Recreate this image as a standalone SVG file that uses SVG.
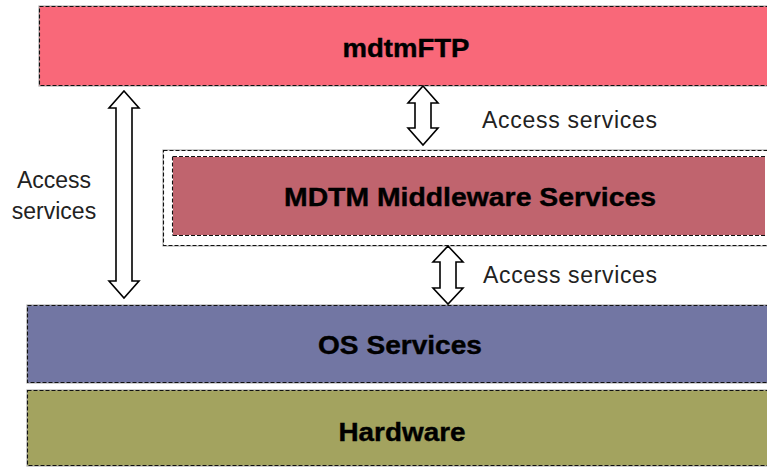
<svg xmlns="http://www.w3.org/2000/svg" width="767" height="468" viewBox="0 0 767 468">
<style>
.shadow{fill:none;stroke:#b0b0b0;stroke-width:2.2}
.dash{stroke:#111;stroke-width:1.1;stroke-dasharray:4 2}
.title{font-family:"Liberation Sans",Arial,sans-serif;font-weight:bold;font-size:26px;fill:#000;stroke:#000;stroke-width:0.4;text-anchor:middle}
.lbl{font-family:"Liberation Sans",Arial,sans-serif;font-size:23px;fill:#222}
.arrow{fill:#fff;stroke:#000;stroke-width:1.6;stroke-linejoin:miter}
</style>
<rect width="767" height="468" fill="#fff"/>
<g id="mdtmFTP">
<rect class="shadow" x="39.5" y="6.5" width="740" height="79"/>
<rect class="dash" x="39.5" y="6.5" width="740" height="79" fill="#F96879"/>
<text class="title" x="406" y="57" textLength="127" lengthAdjust="spacingAndGlyphs">mdtmFTP</text>
</g>
<g id="middleware">
<rect class="shadow" x="163.5" y="150.5" width="620" height="95"/>
<rect class="dash" x="163.5" y="150.5" width="620" height="95" fill="#fff"/>
<rect x="173" y="157" width="592" height="78" fill="#C0646E"/>
<path class="dash" d="M173,156.5 H767 M173,235.5 H767 M172.5,156.5 V235.5" fill="none"/>
<text class="title" x="470" y="206" textLength="372" lengthAdjust="spacingAndGlyphs">MDTM Middleware Services</text>
</g>
<g id="os">
<rect class="shadow" x="27.5" y="305.5" width="760" height="77"/>
<rect class="dash" x="27.5" y="305.5" width="760" height="77" fill="#7276A3"/>
<text class="title" x="400" y="354" textLength="164" lengthAdjust="spacingAndGlyphs">OS Services</text>
</g>
<g id="hardware">
<rect class="shadow" x="27.5" y="390.5" width="760" height="75"/>
<rect class="dash" x="27.5" y="390.5" width="760" height="75" fill="#A3A35F"/>
<text class="title" x="402" y="441" textLength="127" lengthAdjust="spacingAndGlyphs">Hardware</text>
</g>
<g id="connectors">
<path class="arrow" d="M124,91 L139,108 L132,108 L132,281 L139,281 L124,298 L109,281 L116,281 L116,108 L109,108 Z"/>
<path class="arrow" d="M423,86 L438,103 L431,103 L431,128 L438,128 L423,145 L408,128 L415,128 L415,103 L408,103 Z"/>
<path class="arrow" d="M448,246 L463,262 L456,262 L456,288 L463,288 L448,304 L433,288 L440,288 L440,262 L433,262 Z"/>
<text class="lbl" x="482" y="128" textLength="175" lengthAdjust="spacing">Access services</text>
<text class="lbl" x="483" y="283" textLength="174" lengthAdjust="spacing">Access services</text>
<text class="lbl" x="54" y="188" text-anchor="middle">Access</text>
<text class="lbl" x="54" y="219" text-anchor="middle">services</text>
</g>
</svg>
